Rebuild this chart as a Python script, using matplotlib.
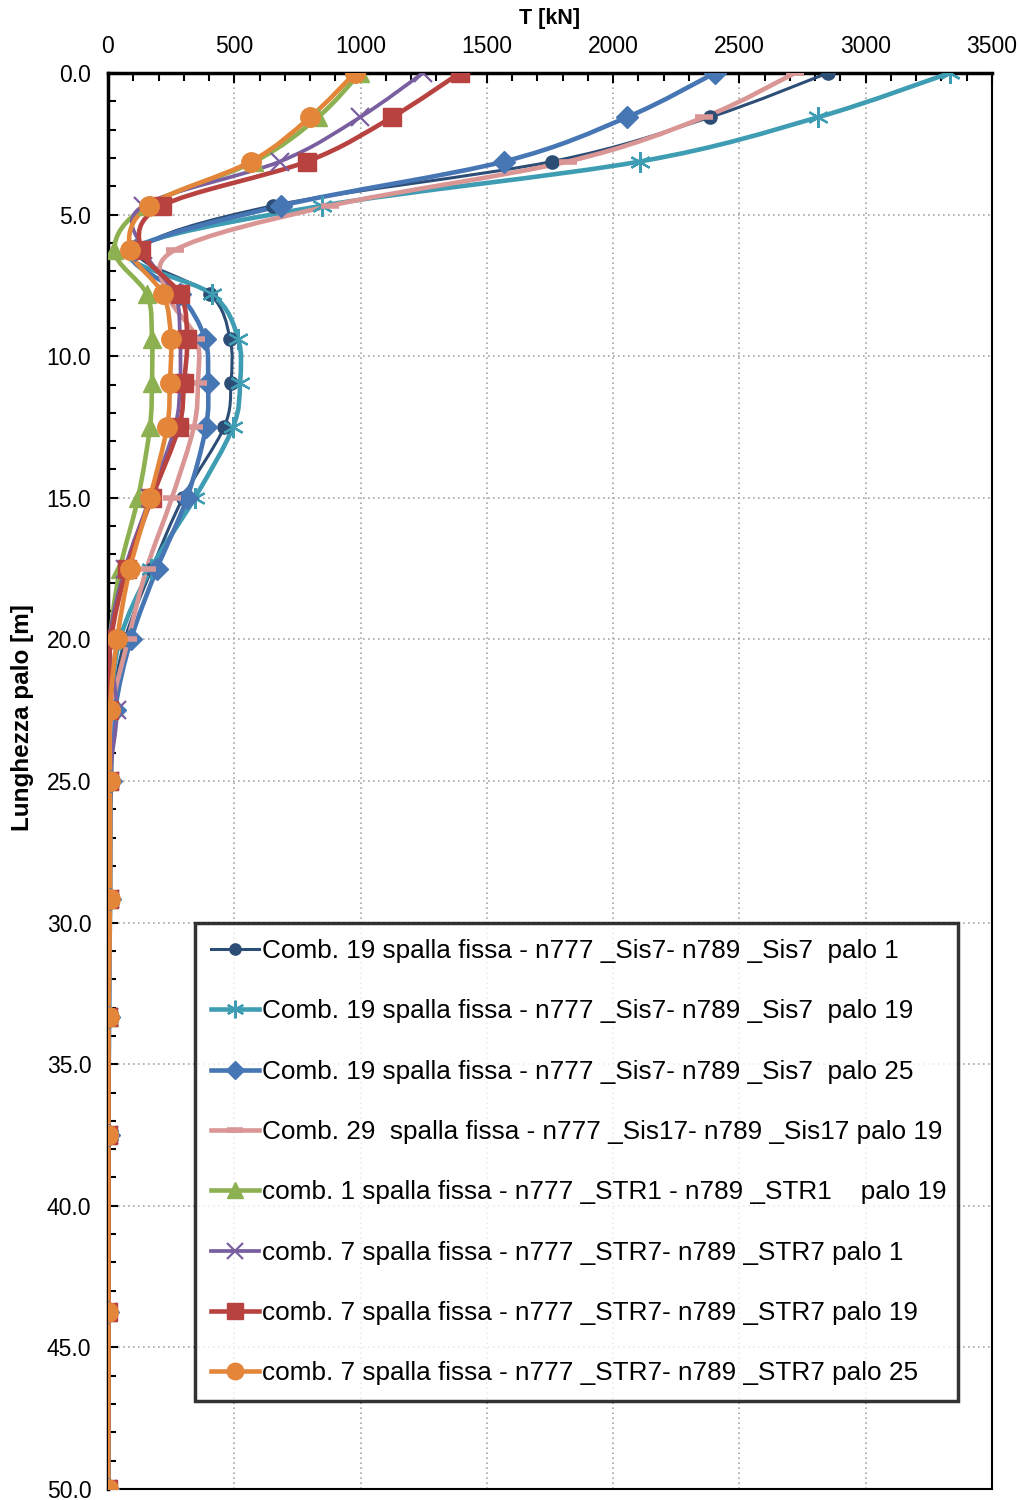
import numpy as np
import matplotlib
matplotlib.use("Agg")
import matplotlib.pyplot as plt
from matplotlib.path import Path
from matplotlib.patches import PathPatch
from matplotlib.lines import Line2D
from matplotlib.ticker import MultipleLocator, FormatStrFormatter

plt.rcParams['font.family'] = ['Liberation Sans', 'DejaVu Sans']

# depth along the pile [m]
DEPTH_M = [0, 1.5625, 3.125, 4.6875, 6.25, 7.8125, 9.375, 10.9375, 12.5, 15, 17.5,
           20, 22.5, 25, 29.1667, 33.3333, 37.5, 43.75, 50]

# shear T [kN] for every combination
C19_P1 = [2850, 2383, 1758, 653, 125, 404, 483, 487, 460, 297, 174, 67, 16, 8, 8, 4, 2, 1, 0]
C19_P19 = [3333, 2811, 2106, 847, 90, 412, 515, 523, 495, 344, 170, 47, 12, 8, 8, 4, 2, 1, 0]
C19_P25 = [2403, 2055, 1568, 685, 107, 285, 384, 396, 388, 313, 194, 91, 28, 12, 8, 4, 2, 1, 0]
C29_P19 = [2720, 2360, 1821, 880, 265, 236, 350, 356, 340, 253, 153, 80, 15, 6, 5, 3, 2, 1, 0]
C1_P19 = [998, 831, 580, 154, 25, 154, 174, 174, 166, 119, 48, 8, 2, 2, 3, 2, 1, 1, 0]
C7_P1 = [1247, 998, 681, 139, 140, 265, 285, 285, 265, 166, 67, 8, 35, 8, 6, 3, 2, 1, 0]
C7_P19 = [1393, 1124, 788, 214, 130, 285, 313, 301, 281, 174, 75, 12, 2, 4, 4, 1, 1, 1, 0]
C7_P25 = [978, 800, 566, 162, 87, 218, 249, 245, 234, 166, 87, 36, 8, 8, 8, 2, 1, 1, 0]

LABELS = [
    "Comb. 19 spalla fissa - n777 _Sis7- n789 _Sis7  palo 1",
    "Comb. 19 spalla fissa - n777 _Sis7- n789 _Sis7  palo 19",
    "Comb. 19 spalla fissa - n777 _Sis7- n789 _Sis7  palo 25",
    "Comb. 29  spalla fissa - n777 _Sis17- n789 _Sis17 palo 19",
    "comb. 1 spalla fissa - n777 _STR1 - n789 _STR1    palo 19",
    "comb. 7 spalla fissa - n777 _STR7- n789 _STR7 palo 1",
    "comb. 7 spalla fissa - n777 _STR7- n789 _STR7 palo 19",
    "comb. 7 spalla fissa - n777 _STR7- n789 _STR7 palo 25",
]

# (values, colour, marker, markersize, linewidth)
SERIES = [
    (C19_P1, '#2C4D75', 'o', 9.5, 2.2),
    (C19_P19, '#3E9DB3', (6, 2, 0), 15, 3.3),
    (C19_P25, '#4776B4', 'D', 11, 3.3),
    (C29_P19, '#D99694', '_', 13, 3.3),
    (C1_P19, '#8DB050', '^', 13.5, 3.3),
    (C7_P1, '#7A5FA0', 'x', 13, 2.7),
    (C7_P19, '#B8423F', 's', 13, 3.3),
    (C7_P25, '#E4863A', 'o', 14, 3.3),
]


def smooth_path(xs, ys):
    # excel-like smoothed line: catmull-rom converted to cubic bezier segments
    pts = np.column_stack([xs, ys]).astype(float)
    n = len(pts)
    verts = [pts[0]]
    codes = [Path.MOVETO]
    for i in range(n - 1):
        p0 = pts[i - 1] if i > 0 else pts[i]
        p1 = pts[i]
        p2 = pts[i + 1]
        p3 = pts[i + 2] if i + 2 < n else pts[i + 1]
        c1 = p1 + (p2 - p0) / 6.0
        c2 = p2 - (p3 - p1) / 6.0
        verts += [c1, c2, p2]
        codes += [Path.CURVE4] * 3
    return Path(verts, codes)


fig = plt.figure(figsize=(10.2, 15), dpi=100)
ax = fig.add_axes([108 / 1020, 1 - 1489 / 1500, (992 - 108) / 1020, (1489 - 73) / 1500])

handles = []
for (vals, col, mk, ms, lw), lab in zip(SERIES, LABELS):
    ax.add_patch(PathPatch(smooth_path(vals, DEPTH_M), facecolor='none',
                           edgecolor=col, lw=lw, capstyle='round', joinstyle='round', zorder=3))
    mew = 4 if mk == '_' else (1.6 if mk in ('x', (6, 2, 0)) else 1)
    ax.plot(vals, DEPTH_M, linestyle='none', marker=mk, markersize=ms, color=col,
            markeredgecolor=col, markeredgewidth=mew, zorder=4)
    handles.append(Line2D([], [], color=col, lw=lw, marker=mk, markersize=ms * 0.85,
                          markeredgewidth=mew, label=lab))

ax.set_xlim(0, 3500)
ax.set_ylim(50, 0)
ax.xaxis.tick_top()
ax.xaxis.set_label_position('top')
ax.xaxis.set_major_locator(MultipleLocator(500))
ax.xaxis.set_minor_locator(MultipleLocator(100))
ax.yaxis.set_major_locator(MultipleLocator(5))
ax.yaxis.set_minor_locator(MultipleLocator(1))
ax.yaxis.set_major_formatter(FormatStrFormatter('%.1f'))
ax.tick_params(which='both', direction='in', labelsize=16.5, width=1.5)
ax.tick_params(which='major', length=7)
ax.tick_params(which='minor', length=6)
ax.tick_params(axis='x', which='both', top=True, bottom=False, pad=11)
ax.tick_params(axis='y', which='both', left=True, right=False, pad=12)
ax.grid(True, which='major', linestyle=(0, (1, 2)), color='#A6A6A6', lw=1.2)
ax.set_axisbelow(True)

ax.spines['top'].set_linewidth(2.5)
ax.spines['left'].set_linewidth(2.5)
ax.spines['right'].set_linewidth(1.5)
ax.spines['bottom'].set_linewidth(1.5)

ax.set_xlabel('T [kN]', fontsize=15.5, fontweight='bold', labelpad=8)
ax.set_ylabel('Lunghezza palo [m]', fontsize=17.5, fontweight='bold')
ax.yaxis.set_label_coords(-0.084, (1489 - 718) / 1416)

leg = fig.legend(handles=handles, loc='upper left',
                 bbox_to_anchor=(195 / 1020, 1 - 1403 / 1500, (958 - 195) / 1020, 480 / 1500),
                 mode='expand', borderaxespad=0, fontsize=18.8, frameon=True, fancybox=False,
                 handlelength=1.85, handletextpad=0.1, labelspacing=1.39, borderpad=0.62)
leg.get_frame().set_edgecolor('black')
leg.get_frame().set_linewidth(2.5)

fig.savefig('out.png', dpi=100)
